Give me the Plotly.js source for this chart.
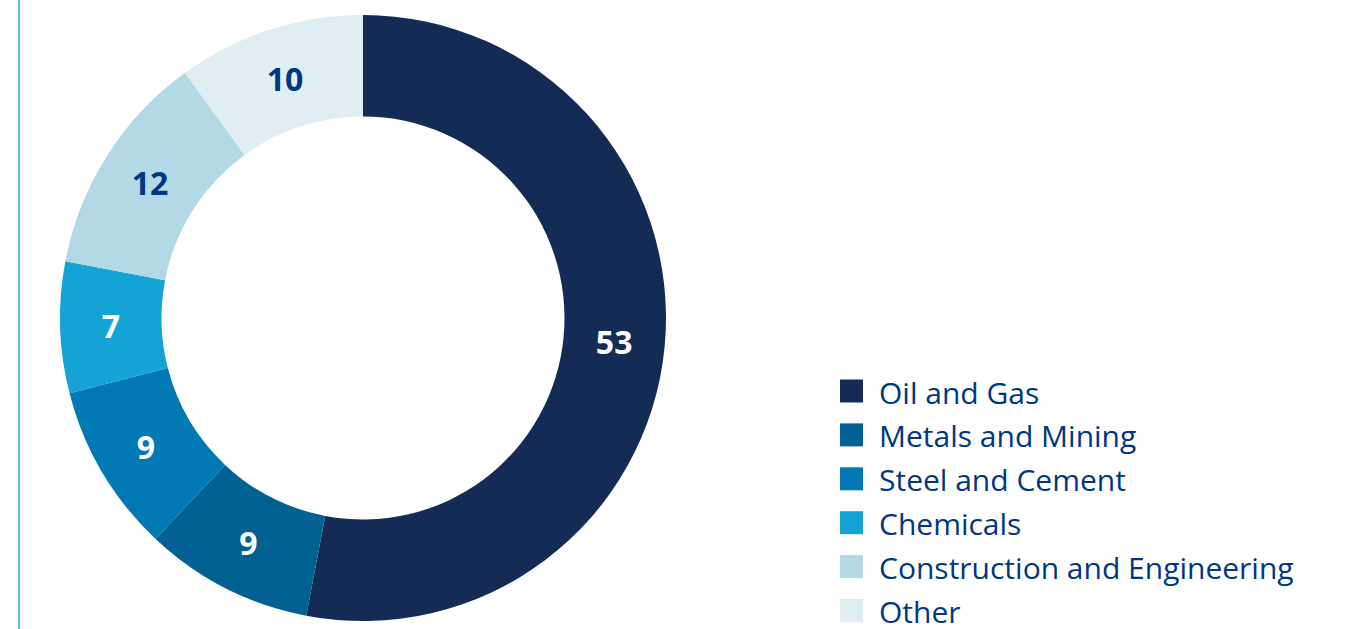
<!DOCTYPE html>
<html>
<head>
<meta charset="utf-8">
<script src="https://cdn.plot.ly/plotly-3.0.1.min.js"></script>
<style>
html,body{margin:0;padding:0;background:#fff;}
#chart{width:1353px;height:629px;}
</style>
</head>
<body>
<div id="chart"></div>
<script>
var categories = ["Oil and Gas", "Metals and Mining", "Steel and Cement", "Chemicals", "Construction and Engineering", "Other"];
var values = [53, 9, 9, 7, 12, 10];
var colors = ["#132b55", "#006192", "#0079b4", "#14a3d4", "#b3d8e6", "#dfeef2"];
var labelColors = ["#ffffff", "#ffffff", "#ffffff", "#ffffff", "#003781", "#003781"];

var W = 1353, H = 629;
var cx = 363, cy = 318, R = 303;

var trace = {
  type: "pie",
  labels: categories,
  values: values,
  sort: false,
  direction: "clockwise",
  rotation: 0,
  hole: 0.665,
  marker: {colors: colors, line: {width: 0}},
  textinfo: "value",
  texttemplate: "%{value}",
  textposition: "inside",
  insidetextorientation: "horizontal",
  insidetextfont: {family: "Open Sans", size: 32, color: labelColors, weight: 700},
  hoverinfo: "none",
  showlegend: false,
  domain: {
    x: [(cx - R) / W, (cx + R) / W],
    y: [(H - cy - R) / H, (H - cy + R) / H]
  }
};

var shapes = [{
  type: "line", xref: "paper", yref: "paper",
  x0: 19 / W, x1: 19 / W, y0: 0, y1: 1,
  line: {color: "#55c0e8", width: 2}
}];
var annotations = [];
var legX = 840, legSq = 23, legY0 = 391, legStep = 43.9;
categories.forEach(function (c, i) {
  var yc = legY0 + legStep * i;
  shapes.push({
    type: "rect", xref: "paper", yref: "paper",
    x0: legX / W, x1: (legX + legSq) / W,
    y0: 1 - (yc - legSq / 2) / H, y1: 1 - (yc + legSq / 2) / H,
    fillcolor: colors[i], line: {width: 0}
  });
  annotations.push({
    xref: "paper", yref: "paper",
    x: 877 / W, y: 1 - (yc + 1) / H,
    xanchor: "left", yanchor: "middle",
    text: c, showarrow: false,
    font: {family: "Open Sans", size: 30, color: "#003781"}
  });
});

var layout = {
  width: W, height: H,
  margin: {l: 0, r: 0, t: 0, b: 0},
  paper_bgcolor: "#ffffff",
  plot_bgcolor: "#ffffff",
  showlegend: false,
  shapes: shapes,
  annotations: annotations
};

Plotly.newPlot("chart", [trace], layout, {displayModeBar: false, staticPlot: true});
</script>
</body>
</html>
